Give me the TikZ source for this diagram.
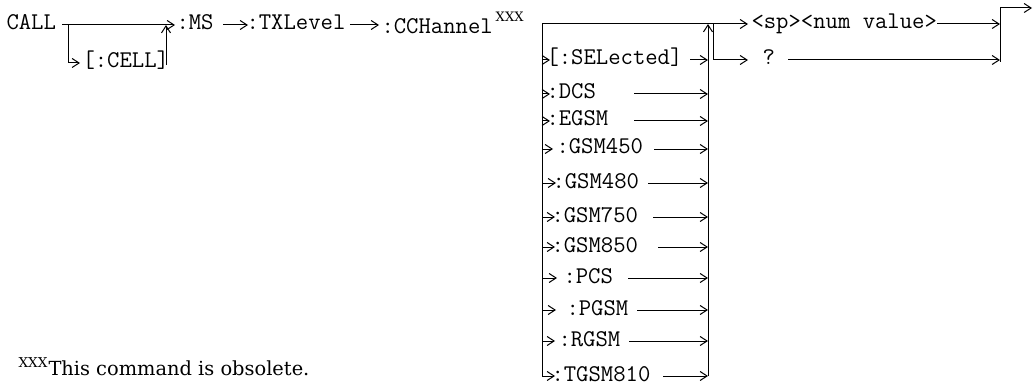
\documentclass[tikz,border=0pt]{standalone}
\usepackage{fontspec}
\newfontfamily\notefont{DejaVu Serif}
\usetikzlibrary{arrows.meta}

\begin{document}
\begin{tikzpicture}[x=0.5pt, y=-0.5pt, line width=0.5pt,
  >={Straight Barb[length=3.5pt,width=4.5pt]},
  kw/.style={inner sep=0pt, anchor=west, text height=5pt, text depth=0pt,
    font=\ttfamily\fontsize{12}{14}\selectfont},
  sup/.style={inner sep=0pt, anchor=west, font=\notefont\fontsize{6.5}{8}\selectfont}]
  \useasboundingbox (0,0) rectangle (1033,385);
  \node[kw] (call) at (6,25) {CALL};
  \node[kw] (cell) at (82,63) {[:CELL]};
  \node[kw] (ms) at (176,25) {:MS};
  \node[kw] (txl) at (246,25) {:TXLevel};
  \node[kw] (cch) at (381,29) {:CCHannel};
  \node[sup] (cchx) at ([xshift=1pt,yshift=6pt]cch.east) {XXX};
  \coordinate (c1) at (62,25);
  \coordinate (b1) at (68,25);
  \coordinate (b2) at (166,65);
  \coordinate (msin) at (175,25);
  \draw[->] (c1) -- (msin);
  \draw[->] (b1) |- ([xshift=-1pt]cell.west);
  \draw[->] (b2) -- (b2 |- msin);
  \draw[->] ([xshift=4.5pt]ms.east) -- ([xshift=1pt]txl.west);
  \draw[->] ([xshift=2pt]txl.east) -- ([xshift=-1pt]txl.east -| cch.west);
  \coordinate (lft) at (542,24);
  \coordinate (rgt) at (708,24);
  \coordinate (qj) at (713,24);
  \node[kw] (num) at (751,24) {<sp><num value>};
  \node[kw] (qm) at (762,60) {?};
  \coordinate (sp1) at (937,24);
  \coordinate (q1) at (788,60);
  \coordinate (fin) at (1000,62);
  \coordinate (exit) at (1032,8);
  \draw[->] (lft) -- ([xshift=-1.5pt]num.west);
  \draw[->] (qj) |- ([xshift=-7pt]qm.west);
  \draw[->] (sp1) -- (sp1 -| fin);
  \draw[->] (q1) -- (q1 -| fin);
  \draw[->] (fin) |- (exit);
  \foreach \nm/\lbl/\yy/\tip/\tx/\ls in {
    sel/{[:SELected]}/60/550/546/690,
    dcs/:DCS/94/550/546/634,
    egsm/:EGSM/121/550/546/634,
    gfl/:GSM450/149/553/556/654,
    gfe/:GSM480/183/556/552/648,
    gsf/:GSM750/217/555/551/653,
    gef/:GSM850/247/555/551/658,
    pcs/:PCS/278/557/563/628,
    pgsm/:PGSM/310/556/566/637,
    rgsm/:RGSM/341/555/558/629,
    tgsm/:TGSM810/376/555/551/663} {
    \node[kw] (\nm) at (\tx,\yy) {\lbl};
    \coordinate (\nm-in) at (\tip,\yy);
    \coordinate (\nm-out) at (\ls,\yy);
    \draw[->] (lft |- \nm-in) -- (\nm-in);
    \draw[->] (\nm-out) -- (rgt |- \nm-out);
  }
  \draw (lft) -- (lft |- tgsm-in);
  \draw[->] (rgt |- tgsm-out) -- (rgt);
  \node[inner sep=0pt, anchor=base west, font=\notefont\fontsize{9.7}{11}\selectfont]
    (note) at (18,375) {\textsuperscript{XXX}This command is obsolete.};
\end{tikzpicture}
\end{document}
